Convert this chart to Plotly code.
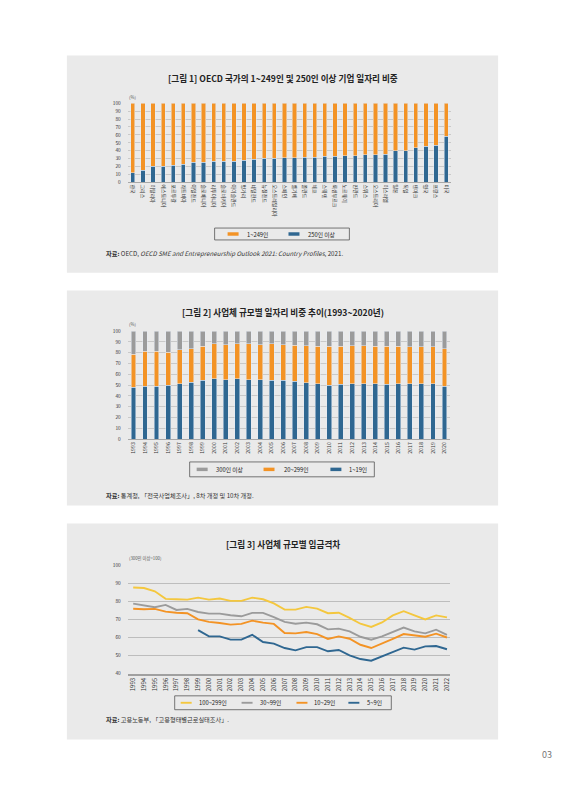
import plotly.graph_objects as go

# page is 566x800; the html body has an 8px margin, so the figure is 550x784 placed at (8, 8)
PAGE_OFF = 8
W, H = 550, 784
def px(x): return (x - PAGE_OFF) / W
def py(y): return 1 - (y - PAGE_OFF) / H

FONT = "Noto Sans CJK KR"

# ---------- Figure 1 data ----------
countries = ["한국", "그리스", "이탈리아", "에스토니아", "포르투갈", "라트비아", "아일랜드", "슬로베니아",
             "리투아니아", "슬로바키아", "아이슬란드", "헝가리", "네덜란드", "뉴질랜드", "오스트레일리아", "스페인",
             "벨기에", "폴란드", "체코", "스웨덴", "룩셈부르크", "노르웨이", "핀란드", "스위스",
             "오스트리아", "이스라엘", "일본", "독일", "덴마크", "영국", "프랑스", "미국"]
share_250plus = [12.5, 15.5, 20.4, 20.4, 21.7, 23.0, 25.4, 25.4, 26.7, 26.7, 27.0, 28.0, 29.0, 30.4, 30.4, 31.0,
                 31.0, 32.0, 32.0, 33.0, 33.0, 34.0, 34.0, 35.0, 35.0, 35.4, 40.0, 40.0, 43.7, 45.8, 47.0, 58.0]
share_1_249 = [round(100 - v, 1) for v in share_250plus]

# ---------- Figure 2 data ----------
years2 = [str(y) for y in range(1993, 2021)]
emp_1_19 = [47.9, 48.8, 48.8, 49.7, 51.5, 52.7, 54.3, 55.8, 54.9, 55.8, 55.2, 54.9, 54.3, 54.3,
            53.4, 52.4, 51.5, 49.7, 50.6, 51.5, 51.5, 51.5, 50.6, 51.5, 51.5, 51.5, 51.5, 48.8]
cum_1_299 = [78.7, 81.4, 81.4, 80.5, 82.6, 83.5, 86.0, 88.1, 87.5, 88.1, 88.1, 87.5, 88.1, 87.5,
             86.9, 86.6, 86.0, 86.0, 86.0, 86.6, 86.6, 86.0, 86.0, 86.0, 85.4, 85.4, 85.4, 83.5]
emp_20_299 = [round(c - b, 1) for c, b in zip(cum_1_299, emp_1_19)]
emp_300plus = [round(100 - c, 1) for c in cum_1_299]

# ---------- Figure 3 data ----------
years3 = [str(y) for y in range(1993, 2023)]
wage_100_299 = [87.6, 87.3, 85.5, 81.3, 81.1, 80.9, 82.0, 80.9, 81.5, 80.2, 80.2, 82.0, 81.1, 78.8, 75.4,
                75.4, 76.9, 75.9, 73.4, 73.7, 70.8, 67.6, 65.8, 68.3, 72.2, 74.5, 72.2, 70.0, 72.2, 71.1]
wage_30_99 = [78.7, 77.8, 76.7, 78.0, 75.2, 75.8, 74.1, 73.2, 73.2, 72.3, 71.7, 73.6, 73.6, 71.3, 68.6,
              67.6, 68.2, 67.3, 64.5, 64.9, 63.4, 60.4, 58.8, 60.6, 63.0, 65.5, 63.4, 62.3, 64.3, 61.5]
wage_10_29 = [75.9, 75.6, 75.8, 74.3, 73.7, 73.4, 70.0, 68.6, 68.0, 67.1, 67.5, 69.3, 68.2, 67.5, 62.5,
              62.3, 63.0, 61.9, 59.2, 60.6, 59.3, 56.0, 54.2, 56.6, 59.3, 61.9, 61.0, 60.4, 62.1, 60.0]
wage_5_9 = [None, None, None, None, None, None, 64.1, 60.6, 60.6, 58.8, 58.8, 61.5, 57.5, 56.6, 54.2,
            52.9, 54.7, 54.7, 52.4, 53.1, 50.1, 48.1, 47.2, 49.6, 52.2, 54.4, 53.3, 55.1, 55.3, 53.5]

# legend labels
legend1 = ["1~249인", "250인 이상"]
legend2 = ["300인 이상", "20~299인", "1~19인"]
legend3 = ["100~299인", "30~99인", "10~29인", "5~9인"]

ORANGE = "#F39325"
BLUE = "#2F6791"
GRAY = "#9B9B9B"
YELLOW = "#F4C73E"
PANEL = "#EAEAEA"
GRID = "#C9C9C9"

fig = go.Figure()

fig.add_trace(go.Bar(x=countries, y=share_250plus, marker_color=BLUE, name=legend1[1],
                     xaxis="x", yaxis="y"))
fig.add_trace(go.Bar(x=countries, y=share_1_249, marker_color=ORANGE, name=legend1[0],
                     xaxis="x", yaxis="y"))
fig.add_trace(go.Bar(x=years2, y=emp_1_19, marker_color=BLUE, name=legend2[2],
                     xaxis="x2", yaxis="y2"))
fig.add_trace(go.Bar(x=years2, y=emp_20_299, marker_color=ORANGE, name=legend2[1],
                     xaxis="x2", yaxis="y2"))
fig.add_trace(go.Bar(x=years2, y=emp_300plus, marker_color=GRAY, name=legend2[0],
                     xaxis="x2", yaxis="y2"))
for nm, vals, col in [(legend3[0], wage_100_299, YELLOW), (legend3[1], wage_30_99, GRAY),
                      (legend3[2], wage_10_29, ORANGE), (legend3[3], wage_5_9, BLUE)]:
    fig.add_trace(go.Scatter(x=years3, y=vals, mode="lines", line=dict(color=col, width=1.9),
                             name=nm, xaxis="x3", yaxis="y3"))

tickf = dict(family=FONT, size=4.8, color="#333")

shapes = []
annotations = []

def ann(text, x, y, size, xanchor="center", color="#222", yanchor="middle"):
    annotations.append(dict(text=text, x=px(x), y=py(y), xref="paper", yref="paper", showarrow=False,
                            xanchor=xanchor, yanchor=yanchor,
                            font=dict(family=FONT, size=size, color=color)))

def rect(x0, y0, x1, y1, fill=None, line_color=None, lw=0, layer="below"):
    shapes.append(dict(type="rect", xref="paper", yref="paper", x0=px(x0), x1=px(x1),
                       y0=py(y1), y1=py(y0), fillcolor=fill if fill else "rgba(0,0,0,0)",
                       line=dict(width=lw, color=line_color or "rgba(0,0,0,0)"), layer=layer))

# panels
for a, b, c, d in [(67, 52, 499, 271), (67, 289, 499, 506), (67, 524, 499, 742)]:
    rect(a, b, c, d, fill=PANEL)

# legend boxes (drawn by hand: swatch + real text)
def legend_box(box, yc, items, swatch_h):
    rect(box[0], box[1], box[2], box[3], line_color="#555", lw=0.8, layer="above")
    for (sx, tx, label, col) in items:
        rect(sx, yc - swatch_h / 2, sx + 11, yc + swatch_h / 2, fill=col, layer="above")
        ann(label, tx, yc, 5.8, xanchor="left", color="#222")

legend_box((215, 226, 350, 238), 232,
           [(228, 245, legend1[0], ORANGE), (289, 307, legend1[1], BLUE)], 3.5)
legend_box((190, 462, 375, 477), 469.5,
           [(197, 214, legend2[0], GRAY), (264, 282, legend2[1], ORANGE), (331, 348, legend2[2], BLUE)], 3.5)
legend_box((175, 698, 392, 712), 705,
           [(181, 197, legend3[0], YELLOW), (242, 258, legend3[1], GRAY), (297, 313, legend3[2], ORANGE),
            (349, 366, legend3[3], BLUE)], 1.9)

ann("<b>[그림 1] OECD 국가의 1~249인 및 250인 이상 기업 일자리 비중</b>", 283, 75, 8.6)
ann("(%)", 127, 94, 4.3, xanchor="left", color="#555")
ann("<b>자료:</b> OECD, <i>OECD SME and Entrepreneurship Outlook 2021: Country Profiles</i>, 2021.",
    104, 252, 6.2, xanchor="left", color="#333")
ann("<b>[그림 2] 사업체 규모별 일자리 비중 추이(1993~2020년)</b>", 283, 311, 8.6)
ann("(%)", 127, 323, 4.3, xanchor="left", color="#555")
ann("<b>자료:</b> 통계청, 「전국사업체조사」, 8차 개정 및 10차 개정.", 104, 496, 6.2, xanchor="left", color="#333")
ann("<b>[그림 3] 사업체 규모별 임금격차</b>", 283, 545, 8.6)
ann("(300인 이상=100)", 127, 559, 4.3, xanchor="left", color="#555")
ann("<b>자료:</b> 고용노동부, 「고용형태별근로실태조사」.", 104, 722, 6.2, xanchor="left", color="#333")
ann("03", 548, 757, 9, color="#777")

fig.update_layout(
    width=W, height=H, margin=dict(l=0, r=0, t=0, b=0),
    paper_bgcolor="white", plot_bgcolor="rgba(0,0,0,0)",
    barmode="stack", bargap=0.58, showlegend=False,
    shapes=shapes, annotations=annotations,
    xaxis=dict(domain=[px(128), px(452)], anchor="y", type="category", showgrid=False,
               showline=True, linecolor="#A8A8A8", linewidth=1, tickangle=90, ticks="",
               tickfont=dict(family=FONT, size=5, color="#333")),
    yaxis=dict(domain=[py(180), py(100)], anchor="x", range=[0, 100], dtick=10,
               gridcolor=GRID, gridwidth=1, zeroline=False, tickfont=tickf, ticks="",
               ticklabelstandoff=6),
    xaxis2=dict(domain=[px(128), px(451)], anchor="y2", type="category", showgrid=False,
                showline=True, linecolor="#A8A8A8", linewidth=1, tickangle=-90, ticks="",
                tickfont=dict(family=FONT, size=5.2, color="#333")),
    yaxis2=dict(domain=[py(439), py(330)], anchor="x2", range=[0, 100], dtick=10,
                gridcolor=GRID, gridwidth=1, zeroline=False, tickfont=tickf, ticks="",
                ticklabelstandoff=6),
    xaxis3=dict(domain=[px(128), px(451)], anchor="y3", type="category", range=[-0.5, 29.3],
                showgrid=False, showline=True, linecolor="#A0A0A0", linewidth=1.5,
                tickangle=-90, ticks="", tickfont=dict(family=FONT, size=6, color="#333")),
    yaxis3=dict(domain=[py(675.7), py(566)], anchor="x3", range=[40, 100], dtick=10,
                gridcolor="#BDBDBD", gridwidth=1, zeroline=False, tickfont=tickf, ticks="",
                ticklabelstandoff=6),
)

fig.write_html("out.html")
